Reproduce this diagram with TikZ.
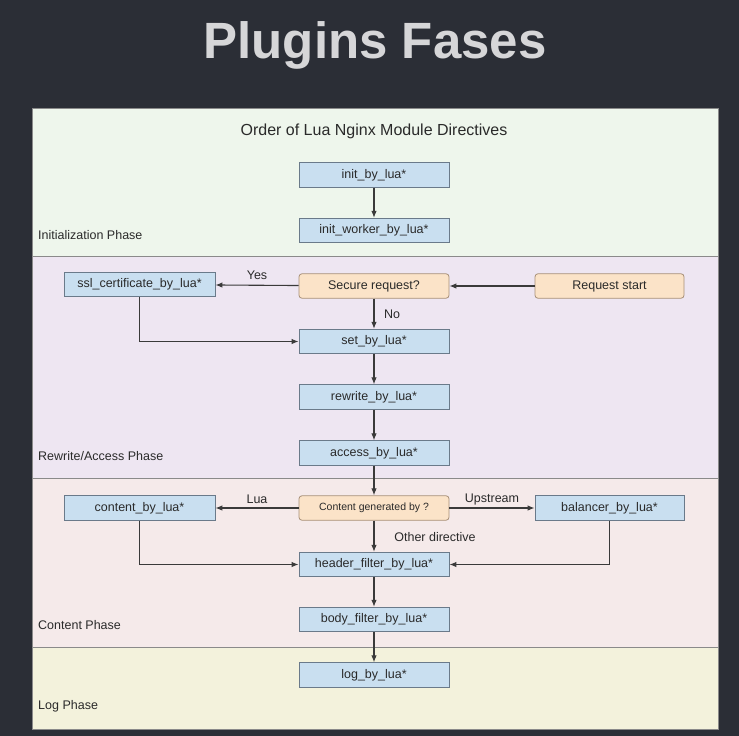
\documentclass[tikz,border=0pt]{standalone}
\usepackage{fontspec}
\setmainfont{Liberation Sans}
\usetikzlibrary{arrows.meta}
\definecolor{bgdark}{HTML}{2B2E36}
\definecolor{titlegray}{HTML}{D6D6D8}
\definecolor{initbg}{HTML}{EEF6EC}
\definecolor{rwbg}{HTML}{EEE6F2}
\definecolor{contbg}{HTML}{F5EAEA}
\definecolor{logbg}{HTML}{F3F2DC}
\definecolor{bluebox}{HTML}{C9DFF0}
\definecolor{blueline}{HTML}{6A7A8A}
\definecolor{orangebox}{HTML}{FBE3C8}
\definecolor{orangeline}{HTML}{A89078}
\definecolor{sepline}{HTML}{8A8A8A}
\definecolor{ink}{HTML}{2A2A2A}
\definecolor{arrowink}{HTML}{3A3A3A}
\tikzset{
  stepbox/.style={draw=blueline, fill=bluebox, line width=0.8pt, minimum width=150pt, minimum height=24.5pt, inner sep=0pt, font=\fontsize{12.5}{14}\selectfont, text=ink},
  decbox/.style={draw=orangeline, fill=orangebox, line width=0.8pt, rounded corners=3pt, minimum width=150pt, minimum height=24.5pt, inner sep=0pt, font=\fontsize{12.5}{14}\selectfont, text=ink},
  phaselabel/.style={anchor=west, inner sep=0pt, font=\fontsize{12.5}{14}\selectfont, text=ink},
  edgelabel/.style={inner sep=0pt, font=\fontsize{12.5}{14}\selectfont, text=ink},
  flow/.style={draw=arrowink, line width=1.1pt, -{Latex[length=7pt,width=5.5pt]}}
}
\begin{document}
\begin{tikzpicture}[x=1pt,y=-1pt]
\useasboundingbox (0,0) rectangle (739,736);
\fill[bgdark] (0,0) rectangle (739,736);
% title
\node[font=\fontsize{51}{56}\selectfont\bfseries, text=titlegray, inner sep=0pt] (title) at (375,45) {Plugins Fases};
% phase bands
\fill[initbg] (32,108) rectangle (718,256);
\fill[rwbg] (32,256) rectangle (718,478);
\fill[contbg] (32,478) rectangle (718,647);
\fill[logbg] (32,647) rectangle (718,729);
\draw[sepline, line width=0.8pt] (32,256) -- (718,256);
\draw[sepline, line width=0.8pt] (32,478) -- (718,478);
\draw[sepline, line width=0.8pt] (32,647) -- (718,647);
\draw[sepline, line width=0.6pt] (32,108) rectangle (718,729);
% headings
\node[inner sep=0pt, font=\fontsize{16}{18}\selectfont, text=ink] (order) at (374,131) {Order of Lua Nginx Module Directives};
\node[phaselabel] (initphase) at (38,235) {Initialization Phase};
\node[phaselabel] (rwphase) at (38,456) {Rewrite/Access Phase};
\node[phaselabel] (contphase) at (38,625) {Content Phase};
\node[phaselabel] (logphase) at (38,706) {Log Phase};
% nodes
\node[stepbox] (init) at (374,175) {init\_by\_lua*};
\node[stepbox] (initw) at (374,230.5) {init\_worker\_by\_lua*};
\node[stepbox, minimum width=151pt] (ssl) at (139.5,284.5) {ssl\_certificate\_by\_lua*};
\node[decbox] (secure) at (374,286) {Secure request?};
\node[decbox, minimum width=149pt] (start) at (609.5,286) {Request start};
\node[stepbox] (set) at (374,341.5) {set\_by\_lua*};
\node[stepbox] (rewrite) at (374,397) {rewrite\_by\_lua*};
\node[stepbox] (access) at (374,453) {access\_by\_lua*};
\node[stepbox, minimum width=151pt] (content) at (139.5,508) {content\_by\_lua*};
\node[decbox, font=\fontsize{10.5}{12}\selectfont] (cgen) at (374,508) {Content generated by ?};
\node[stepbox, minimum width=149pt] (balancer) at (609.5,508) {balancer\_by\_lua*};
\node[stepbox] (header) at (374,564.5) {header\_filter\_by\_lua*};
\node[stepbox] (body) at (374,619.5) {body\_filter\_by\_lua*};
\node[stepbox] (log) at (374,675) {log\_by\_lua*};
% edge labels
\node[edgelabel] (yes) at (257,275) {Yes};
\node[edgelabel] (no) at (392,314) {No};
\node[edgelabel] (lua) at (257,499) {Lua};
\node[edgelabel] (upstream) at (492,499) {Upstream};
\node[edgelabel] (other) at (435,537) {Other directive};
% connectors
\draw[flow] (init) -- (initw);
\draw[flow] (start) -- (secure);
\draw[flow] (secure) -- (ssl);
\draw[flow] (secure) -- (set);
\draw[flow] (ssl.south) |- (set.west);
\draw[flow] (set) -- (rewrite);
\draw[flow] (rewrite) -- (access);
\draw[flow] (access) -- (cgen);
\draw[flow] (cgen) -- (content);
\draw[flow] (cgen) -- (balancer);
\draw[flow] (cgen) -- (header);
\draw[flow] (content.south) |- (header.west);
\draw[flow] (balancer.south) |- (header.east);
\draw[flow] (header) -- (body);
\draw[flow] (body) -- (log);
\end{tikzpicture}
\end{document}
